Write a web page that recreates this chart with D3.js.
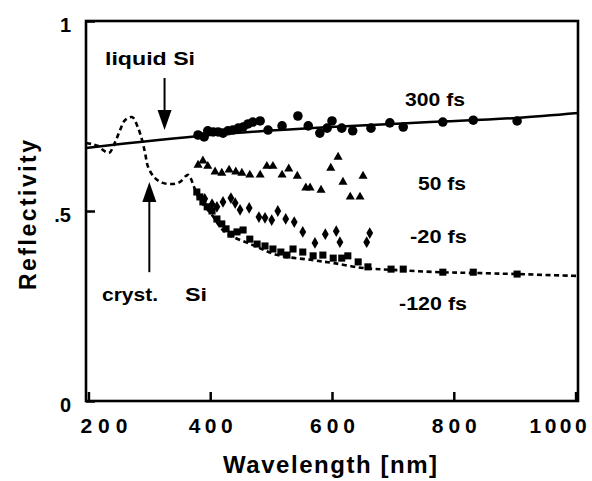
<!DOCTYPE html>
<html>
<head>
<meta charset="utf-8">
<script src="https://cdn.jsdelivr.net/npm/d3@7"></script>
<style>
  body { margin: 0; background: #fff; }
  svg { display: block; font-family: "Liberation Sans", Arial, Helvetica, sans-serif; font-weight: bold; }
</style>
</head>
<body>
<svg id="chart" width="592" height="481"></svg>
<script>
// values: wavelength [nm], reflectivity
const xTicks = [200, 400, 600, 800, 1000];
const yTicks = [0, 0.5, 1];

// crystalline Si reflectivity, continued as the -120 fs guide line
const crystCurve = [
  [196, 0.679], [206, 0.676], [216, 0.671], [226, 0.658], [234, 0.653], [244, 0.682],
  [252, 0.713], [260, 0.739], [272, 0.747], [281, 0.721], [288, 0.687], [293, 0.653],
  [298, 0.616], [309, 0.587], [322, 0.574], [337, 0.571], [350, 0.576], [360, 0.592],
  [364, 0.595], [368, 0.586], [373, 0.565], [383, 0.529], [403, 0.489], [424, 0.445],
  [469, 0.411], [511, 0.384], [567, 0.371], [602, 0.363], [651, 0.350], [700, 0.345],
  [777, 0.339], [832, 0.337], [904, 0.334], [1004, 0.329]
];

// liquid Si, through the 300 fs points
const liquidCurve = [
  [196, 0.666], [400, 0.700], [597, 0.721], [761, 0.734], [904, 0.745], [1004, 0.758]
];

const fs300 = [
  [380, 0.700], [390, 0.695], [396, 0.711], [405, 0.708], [413, 0.708], [421, 0.705],
  [429, 0.711], [437, 0.713], [446, 0.718], [454, 0.721], [462, 0.729], [470, 0.734],
  [482, 0.737], [495, 0.713], [518, 0.724], [544, 0.750], [561, 0.724], [580, 0.705],
  [592, 0.718], [600, 0.737], [616, 0.718], [634, 0.711], [664, 0.718], [695, 0.732],
  [717, 0.721], [782, 0.734], [832, 0.739], [904, 0.737]
];

const fs50 = [
  [380, 0.621], [388, 0.632], [396, 0.618], [408, 0.603], [419, 0.600], [431, 0.608],
  [442, 0.603], [452, 0.600], [465, 0.595], [482, 0.595], [493, 0.618], [503, 0.618],
  [518, 0.595], [529, 0.611], [543, 0.592], [557, 0.561], [564, 0.561], [582, 0.555],
  [598, 0.613], [610, 0.642], [618, 0.576], [630, 0.537], [646, 0.537], [651, 0.592]
];

const fsMinus20 = [
  [391, 0.532], [403, 0.518], [411, 0.511], [421, 0.524], [434, 0.534], [441, 0.521],
  [449, 0.503], [464, 0.508], [480, 0.484], [490, 0.482], [501, 0.476], [511, 0.500],
  [524, 0.479], [538, 0.471], [552, 0.445], [572, 0.416], [589, 0.439], [607, 0.447],
  [613, 0.418], [657, 0.418], [662, 0.442]
];

const fsMinus120 = [
  [378, 0.550], [383, 0.537], [388, 0.524], [395, 0.511], [403, 0.500], [411, 0.479],
  [419, 0.466], [426, 0.453], [434, 0.439], [444, 0.445], [454, 0.450], [465, 0.426],
  [477, 0.413], [490, 0.408], [503, 0.400], [516, 0.392], [526, 0.384], [536, 0.400],
  [552, 0.392], [569, 0.382], [585, 0.384], [602, 0.376], [616, 0.376], [626, 0.382],
  [643, 0.366], [659, 0.353], [697, 0.347], [717, 0.347], [782, 0.339], [832, 0.339],
  [904, 0.334]
];

const svg = d3.select("#chart");
const frame = { left: 86, right: 578, top: 21, bottom: 401 };

const x = d3.scaleLinear().domain([196, 1004]).range([frame.left, frame.right]);
const y = d3.scaleLinear().domain([0, 1]).range([frame.bottom, frame.top]);

// curves
const line = d3.line().x((d) => x(d[0])).y((d) => y(d[1]));

svg.append("path")
  .datum(liquidCurve)
  .attr("d", line.curve(d3.curveMonotoneX))
  .attr("fill", "none")
  .attr("stroke", "#000")
  .attr("stroke-width", 2.5);

svg.append("path")
  .datum(crystCurve)
  .attr("d", line.curve(d3.curveCatmullRom))
  .attr("fill", "none")
  .attr("stroke", "#000")
  .attr("stroke-width", 2.6)
  .attr("stroke-dasharray", "5,3.5");

// data points
const series = [
  { data: fsMinus120, type: d3.symbolSquare, size: 50 },
  { data: fsMinus20, type: d3.symbolDiamond, size: 40 },
  { data: fs50, type: d3.symbolTriangle, size: 36 },
  { data: fs300, type: d3.symbolCircle, size: 72 },
];

series.forEach((s) => {
  svg.append("g")
    .selectAll("path")
    .data(s.data)
    .join("path")
    .attr("transform", (d) => `translate(${x(d[0])},${y(d[1])})`)
    .attr("d", d3.symbol().type(s.type).size(s.size))
    .attr("fill", "#000");
});

// frame
svg.append("rect")
  .attr("x", frame.left)
  .attr("y", frame.top)
  .attr("width", frame.right - frame.left)
  .attr("height", frame.bottom - frame.top)
  .attr("fill", "none")
  .attr("stroke", "#000")
  .attr("stroke-width", 2.6);

// axes
const xAxis = d3.axisBottom(x)
  .tickValues(xTicks)
  .tickFormat(d3.format("d"))
  .tickSizeInner(-9)
  .tickSizeOuter(0)
  .tickPadding(17);
const gx = svg.append("g")
  .attr("transform", `translate(0,${frame.bottom})`)
  .call(xAxis);
gx.select(".domain").remove();
gx.selectAll(".tick line").attr("stroke-width", 2.5);
const xLabelFit = { 200: [15, 47], 400: [0, 44], 600: [0, 45], 800: [0, 45], 1000: [-18, 57] };
gx.selectAll(".tick text")
  .attr("font-size", 21)
  .attr("font-family", null)
  .attr("fill", "#000")
  .attr("dx", (d) => xLabelFit[d][0])
  .attr("textLength", (d) => xLabelFit[d][1])
  .attr("lengthAdjust", "spacing");

const yAxis = d3.axisLeft(y)
  .tickValues(yTicks)
  .tickSizeInner(-9)
  .tickSizeOuter(0)
  .tickPadding(15)
  .tickFormat((d) => (d === 0.5 ? ".5" : String(d)));
const gy = svg.append("g")
  .attr("transform", `translate(${frame.left},0)`)
  .call(yAxis);
gy.select(".domain").remove();
gy.selectAll(".tick line").attr("stroke-width", 2.5);
gy.selectAll(".tick text")
  .attr("font-size", 20)
  .attr("font-family", null)
  .attr("fill", "#000")
  .attr("dy", "0.5em");

// axis titles
svg.append("text")
  .attr("x", 330)
  .attr("y", 473)
  .attr("text-anchor", "middle")
  .attr("font-size", 24)
  .attr("textLength", 214)
  .text("Wavelength [nm]");

svg.append("text")
  .attr("transform", "translate(36,215) rotate(-90)")
  .attr("text-anchor", "middle")
  .attr("font-size", 23)
  .attr("textLength", 150)
  .text("Reflectivity");

// series labels
const labels = [
  { text: "300 fs", x: 405, y: 106, len: 60 },
  { text: "50 fs", x: 418, y: 190, len: 48 },
  { text: "-20 fs", x: 410, y: 243, len: 57 },
  { text: "-120 fs", x: 399, y: 310, len: 68 },
  { text: "liquid Si", x: 105, y: 65, len: 90 },
  { text: "cryst.", x: 102, y: 301, len: 56 },
  { text: "Si", x: 185, y: 301, len: 22 },
];

svg.append("g")
  .selectAll("text")
  .data(labels)
  .join("text")
  .attr("x", (d) => d.x)
  .attr("y", (d) => d.y)
  .attr("font-size", 19)
  .attr("textLength", (d) => d.len)
  .attr("lengthAdjust", "spacingAndGlyphs")
  .text((d) => d.text);

// arrows: wavelength, tail and tip reflectivity
const arrows = [
  { at: 325, from: 0.85, to: 0.713 },
  { at: 300, from: 0.339, to: 0.576 },
];

arrows.forEach((a) => {
  const ax = x(a.at);
  const y0 = y(a.from);
  const y1 = y(a.to);
  const dir = y1 > y0 ? 1 : -1;
  svg.append("line")
    .attr("x1", ax).attr("x2", ax)
    .attr("y1", y0).attr("y2", y1 - dir * 16)
    .attr("stroke", "#000")
    .attr("stroke-width", 2);
  svg.append("path")
    .attr("d", `M${ax - 7},${y1 - dir * 20}L${ax + 7},${y1 - dir * 20}L${ax},${y1}Z`)
    .attr("fill", "#000");
});
</script>
</body>
</html>
